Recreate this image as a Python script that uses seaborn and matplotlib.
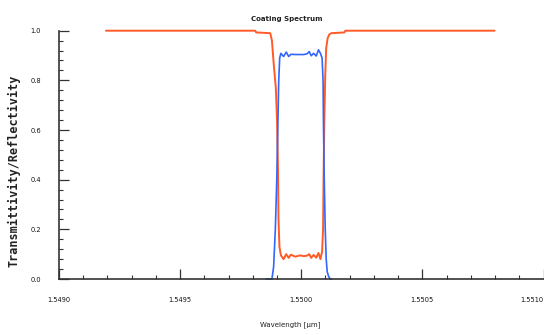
import matplotlib
matplotlib.use("Agg")
import matplotlib.pyplot as plt
import seaborn as sns
import pandas as pd
from matplotlib.ticker import MultipleLocator

sns.set_style("ticks")
plt.rcParams['font.family'] = ['DejaVu Sans']

# Reflectivity (red)
wl_R = [1.549194, 1.549810, 1.549814, 1.549872, 1.549879, 1.549886, 1.549895,
        1.549900, 1.549904, 1.549906, 1.549910, 1.549916,
        1.549927, 1.549938, 1.549948, 1.549957, 1.549975, 1.549996, 1.550010,
        1.550024, 1.550033, 1.550041, 1.550051, 1.550062, 1.550071, 1.550079,
        1.550086, 1.550090, 1.550092, 1.550095, 1.550099, 1.550103, 1.550109,
        1.550116, 1.550124, 1.550178, 1.550182, 1.550798]
R = [1.0, 1.0, 0.993, 0.99, 0.96, 0.87, 0.77,
     0.64, 0.44, 0.24, 0.13, 0.095,
     0.08, 0.10, 0.085, 0.098, 0.09, 0.095, 0.092,
     0.094, 0.10, 0.085, 0.097, 0.086, 0.105, 0.08,
     0.11, 0.20, 0.40, 0.62, 0.82, 0.93, 0.97,
     0.985, 0.99, 0.993, 1.0, 1.0]

# Transmittivity (blue)
wl_T = [1.549855, 1.549879, 1.549886, 1.549893, 1.549899, 1.549903, 1.549907,
        1.549911, 1.549916, 1.549927, 1.549938, 1.549948, 1.549957, 1.549975,
        1.549996, 1.550010, 1.550024, 1.550033, 1.550041, 1.550051, 1.550062,
        1.550071, 1.550079, 1.550086, 1.550090, 1.550092, 1.550095, 1.550099,
        1.550103, 1.550107, 1.550113, 1.550120, 1.550124]
T = [0.0, 0.0, 0.05, 0.2, 0.4, 0.6, 0.8,
     0.89, 0.909, 0.896, 0.914, 0.896, 0.905, 0.904,
     0.904, 0.904, 0.907, 0.916, 0.899, 0.909, 0.898,
     0.923, 0.909, 0.89, 0.8, 0.6, 0.4, 0.2,
     0.08, 0.03, 0.01, 0.0, 0.0]

xticks = [1.5490, 1.5495, 1.5500, 1.5505, 1.5510]
xtick_labels = ["1.5490", "1.5495", "1.5500", "1.5505", "1.5510"]
yticks = [0.0, 0.2, 0.4, 0.6, 0.8, 1.0]
ytick_labels = ["0.0", "0.2", "0.4", "0.6", "0.8", "1.0"]

dfR = pd.DataFrame({"wl": wl_R, "v": R})
dfT = pd.DataFrame({"wl": wl_T, "v": T})

W, H = 544, 335
fig = plt.figure(figsize=(W / 100, H / 100), dpi=100)
ax = fig.add_axes([59 / W, 1 - 279 / H, (543.5 - 59) / W, (279 - 30.7) / H])

sns.lineplot(data=dfR, x="wl", y="v", ax=ax, color="#FF5A28", lw=1.4, sort=False,
             estimator=None)
sns.lineplot(data=dfT, x="wl", y="v", ax=ax, color="#3366FF", lw=1.2, sort=False,
             estimator=None)
for ln in ax.get_lines():
    ln.set_clip_on(False)

ax.set_xlim(1.5490, 1.5510)
ax.set_ylim(0.0, 1.0)
ax.set_xticks(xticks, labels=xtick_labels)
ax.set_yticks(yticks, labels=ytick_labels)
ax.xaxis.set_minor_locator(MultipleLocator(0.0001))
ax.yaxis.set_minor_locator(MultipleLocator(0.04))
ax.get_xticklabels()[-1].set_horizontalalignment("right")

for s in ["top", "right"]:
    ax.spines[s].set_visible(False)
for s in ["left", "bottom"]:
    ax.spines[s].set_color("#333333")
    ax.spines[s].set_linewidth(1.2)

ax.tick_params(which="major", direction="in", length=7, width=0.9, color="#333333",
               labelsize=4.8, labelcolor="#111111")
ax.tick_params(axis="x", which="major", pad=13)
ax.tick_params(axis="y", which="major", pad=13)
ax.tick_params(which="minor", direction="in", length=3, width=0.8, color="#333333")

ax.set_xlabel("")
ax.set_ylabel("")
fig.text(287 / W, 1 - 19 / H, "Coating Spectrum", ha="center", va="center",
         fontsize=5, fontweight="bold", color="#222222")
fig.text(290.5 / W, 1 - 325 / H, "Wavelength [μm]", ha="center", va="center",
         fontsize=5, color="#222222")
fig.text(14 / W, 1 - 171 / H, "Transmittivity/Reflectivity", ha="center", va="center",
         rotation=90, fontsize=8.5, fontweight="bold", family="DejaVu Sans Mono",
         color="#222222")

fig.savefig("out.png", dpi=100)
